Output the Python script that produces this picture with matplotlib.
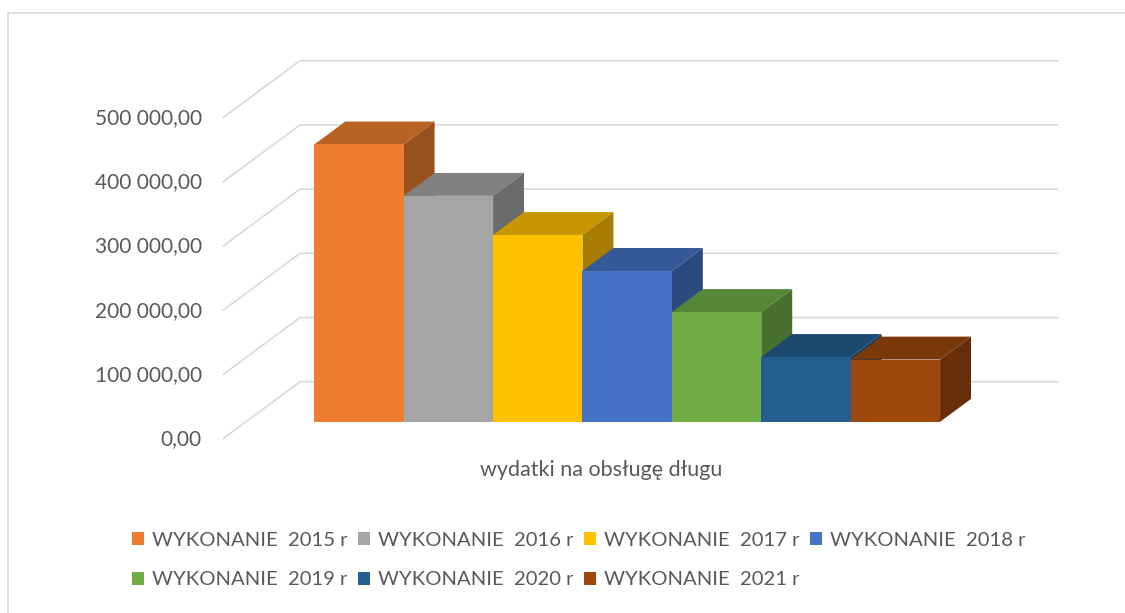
import matplotlib
matplotlib.use("Agg")
import matplotlib.pyplot as plt
from matplotlib.patches import Polygon, Patch, Rectangle
import numpy as np

# ---------------------------------------------------------------------------
# Data
# ---------------------------------------------------------------------------
SERIES = [
    "WYKONANIE  2015 r",
    "WYKONANIE  2016 r",
    "WYKONANIE  2017 r",
    "WYKONANIE  2018 r",
    "WYKONANIE  2019 r",
    "WYKONANIE  2020 r",
    "WYKONANIE  2021 r",
]
VALUES = [432000, 352000, 291000, 235000, 171000, 101000, 97000]
COLORS = ["#ED7D31", "#A5A5A5", "#FFC000", "#4472C4", "#70AD47", "#255E91", "#9E480E"]
CATEGORY = "wydatki na obsługę długu"
YTICKS = [0, 100000, 200000, 300000, 400000, 500000]
YTICK_LABELS = ["0,00", "100 000,00", "200 000,00", "300 000,00", "400 000,00", "500 000,00"]

# ---------------------------------------------------------------------------
# 3D look (oblique projection): full floor depth in data units
# ---------------------------------------------------------------------------
DEPTH_X = 0.865
DEPTH_Y = 89250
BAR_D0, BAR_D1 = 0.30, 0.70
FLOOR_L, FLOOR_R = -0.765, 7.72
TEXT = "#595959"
GRID = "#D9D9D9"
FS = 15

plt.rcParams["font.family"] = ["Lato", "DejaVu Sans"]

fig = plt.figure(figsize=(11.25, 6.13), dpi=100)
ax = fig.add_axes([0, 0, 1, 1])
ax.set_xlim(-3.256, 9.328)
ax.set_ylim(-271000, 683800)
ax.axis("off")


def shade(c, f):
    rgb = np.array(matplotlib.colors.to_rgb(c))
    return tuple(rgb * f)


# gridlines (floor diagonal + back wall)
for v in YTICKS:
    ax.plot([FLOOR_L, FLOOR_L + DEPTH_X, FLOOR_R + DEPTH_X],
            [v, v + DEPTH_Y, v + DEPTH_Y], color=GRID, lw=1.2, zorder=1,
            solid_capstyle="butt")

# y labels
for v, lab in zip(YTICKS, YTICK_LABELS):
    ax.text(-1.0, v, lab, ha="right", va="center", fontsize=FS, color=TEXT)

# bars
sx0, sy0 = DEPTH_X * BAR_D0, DEPTH_Y * BAR_D0
sx1, sy1 = DEPTH_X * BAR_D1, DEPTH_Y * BAR_D1
for i, (v, c) in enumerate(zip(VALUES, COLORS)):
    z = 2 + i
    top = [(i + sx0, v + sy0), (i + 1 + sx0, v + sy0),
           (i + 1 + sx1, v + sy1), (i + sx1, v + sy1)]
    side = [(i + 1 + sx0, sy0), (i + 1 + sx1, sy1),
            (i + 1 + sx1, v + sy1), (i + 1 + sx0, v + sy0)]
    front = [(i + sx0, sy0), (i + 1 + sx0, sy0),
             (i + 1 + sx0, v + sy0), (i + sx0, v + sy0)]
    ax.add_patch(Polygon(top, closed=True, fc=shade(c, 0.78), ec="none", zorder=z))
    ax.add_patch(Polygon(side, closed=True, fc=shade(c, 0.65), ec="none", zorder=z))
    ax.add_patch(Polygon(front, closed=True, fc=c, ec="none", zorder=z))

# category label
ax.text(3.5 - 0.03, -48000, CATEGORY, ha="center", va="center", fontsize=FS + 0.5, color=TEXT)

# legend: matplotlib fills columns first, so reorder to get rows 2015-2018 / 2019-2021
handles = [Patch(fc=c, ec="none", label=s) for s, c in zip(SERIES, COLORS)]
order = [0, 4, 1, 5, 2, 6, 3]
leg = fig.legend([handles[k] for k in order], [SERIES[k] for k in order],
                 loc="upper left", bbox_to_anchor=(132 / 1125, 1 - 532 / 613),
                 ncol=4, frameon=False, fontsize=14.6, labelcolor=TEXT,
                 handlelength=0.6, handleheight=0.6, handletextpad=0.4,
                 columnspacing=0.5, labelspacing=1.1, borderpad=0, borderaxespad=0)

# outer chart frame (cut off at right and bottom in the reference)
fig.patches.append(Rectangle((7.5 / 1125, -0.1), 1.2, 1.1 - 13.5 / 613,
                             transform=fig.transFigure, fill=False,
                             ec="#D9D9D9", lw=1.2))

fig.savefig("out.png", dpi=100)
